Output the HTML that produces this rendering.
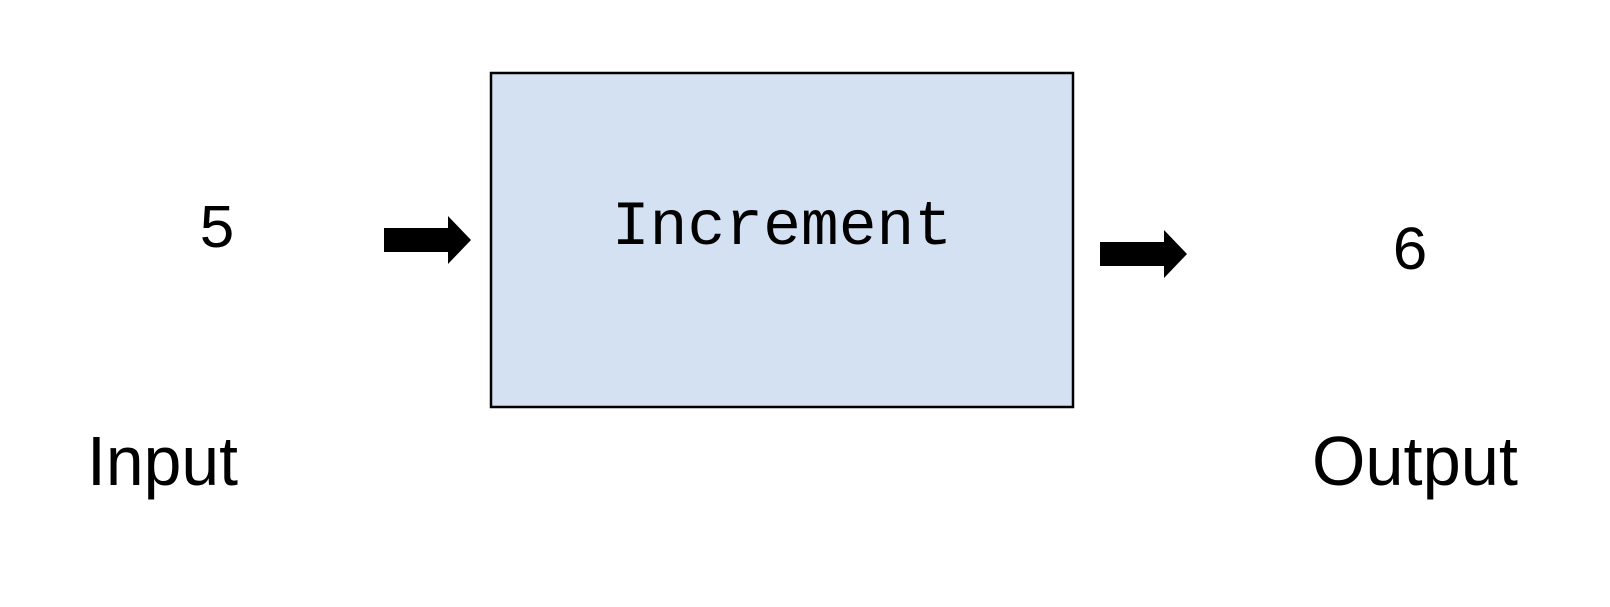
<!DOCTYPE html>
<html><head><style>
html,body{margin:0;padding:0;background:#fff;}
</style></head><body>
<svg width="1610" height="602" xmlns="http://www.w3.org/2000/svg">
<rect x="491" y="73" width="582" height="334" fill="#d4e1f2" stroke="#000" stroke-width="2.5"/>
<polygon points="384,228 448,228 448,216 471,240 448,264 448,252 384,252" fill="#000"/>
<polygon points="1100,242 1164,242 1164,230 1187,254 1164,278 1164,266 1100,266" fill="#000"/>
<text x="217" y="247" font-family="Liberation Mono, monospace" font-size="62" text-anchor="middle">5</text>
<text x="782" y="244" font-family="Liberation Mono, monospace" font-size="63" text-anchor="middle">Increment</text>
<text x="1410" y="269" font-family="Liberation Mono, monospace" font-size="62" text-anchor="middle">6</text>
<text x="87" y="485" font-family="Liberation Sans, sans-serif" font-size="70" textLength="151" lengthAdjust="spacingAndGlyphs">Input</text>
<text x="1312" y="485" font-family="Liberation Sans, sans-serif" font-size="70" textLength="206" lengthAdjust="spacingAndGlyphs">Output</text>
</svg>
</body></html>
